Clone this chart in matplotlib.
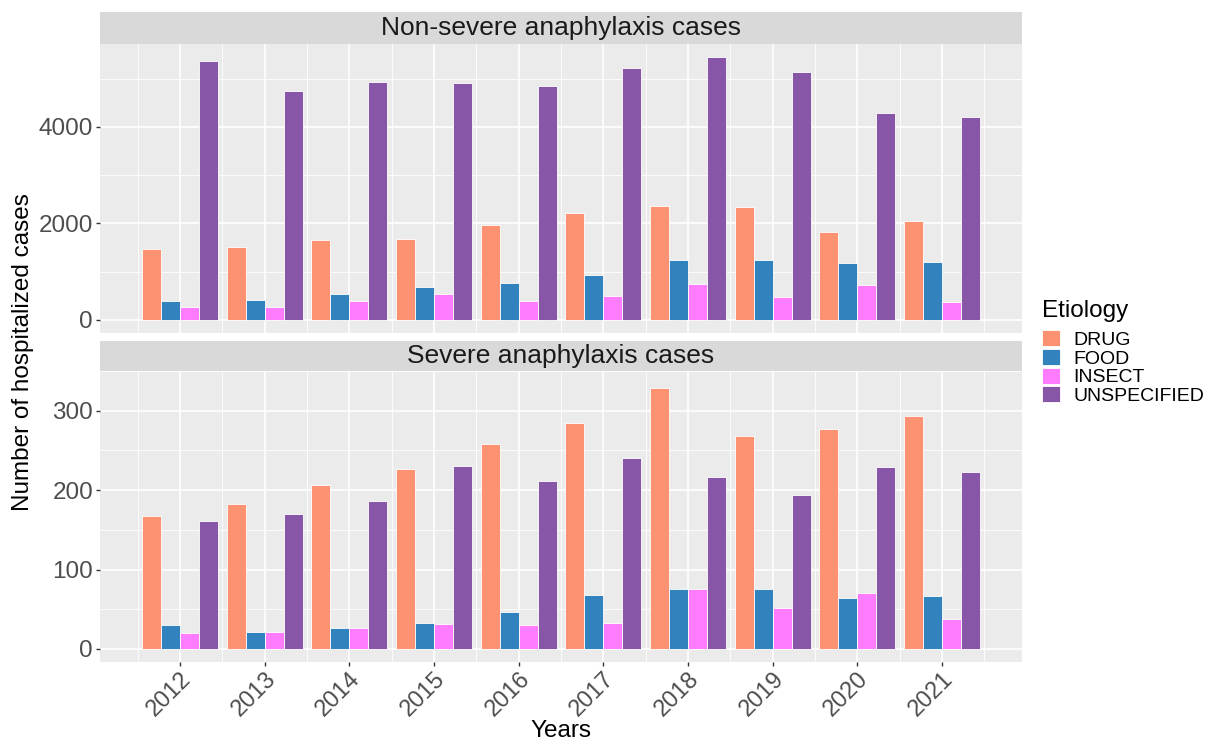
import numpy as np
import matplotlib.pyplot as plt
from matplotlib.patches import Patch

plt.rcParams['font.family'] = ['Liberation Sans', 'DejaVu Sans']

years = [2012, 2013, 2014, 2015, 2016, 2017, 2018, 2019, 2020, 2021]
etiologies = ['DRUG', 'FOOD', 'INSECT', 'UNSPECIFIED']
colors = ['#FC9272', '#3182BD', '#FF7BFF', '#8856A7']

# non-severe cases
ns_drug = [1460, 1505, 1650, 1670, 1965, 2220, 2350, 2335, 1830, 2040]
ns_food = [390, 410, 535, 680, 765, 920, 1245, 1250, 1175, 1195]
ns_insect = [265, 265, 390, 535, 395, 500, 740, 480, 720, 378]
ns_unspec = [5360, 4750, 4930, 4905, 4850, 5220, 5445, 5135, 4280, 4200]

# severe cases
s_drug = [168, 183, 207, 226, 258, 284, 328, 268, 277, 293]
s_food = [30, 22, 27, 33, 47, 68, 76, 75, 64, 67]
s_insect = [20, 22, 27, 31, 30, 33, 76, 51, 70, 38]
s_unspec = [161, 170, 186, 230, 211, 241, 217, 194, 229, 223]

panels = [
    ('Non-severe anaphylaxis cases', [ns_drug, ns_food, ns_insect, ns_unspec], [0, 2000, 4000], [1000, 3000, 5000]),
    ('Severe anaphylaxis cases', [s_drug, s_food, s_insect, s_unspec], [0, 100, 200, 300], [50, 150, 250, 350]),
]

W, H = 1208, 742
fig = plt.figure(figsize=(W / 100, H / 100), dpi=100)

# pixel boxes: (strip top, panel top, panel bottom)
boxes = [(12, 44, 333), (341, 371, 662)]
left, right = 100, 1022

x = np.arange(len(years))
dodge = 0.9
bw = dodge / len(etiologies)
span = (len(years) - 1) + dodge
xlim = (-dodge / 2 - 0.05 * span, len(years) - 1 + dodge / 2 + 0.05 * span)

axes = []
for (title, series, major, minor), (st, pt, pb) in zip(panels, boxes):
    sax = fig.add_axes([left / W, (H - pt) / H, (right - left) / W, (pt - st) / H])
    sax.set_facecolor('#D9D9D9')
    sax.set_xticks([])
    sax.set_yticks([])
    for s in sax.spines.values():
        s.set_visible(False)
    sax.text(0.5, 0.5, title, ha='center', va='center', fontsize=19, color='#1A1A1A',
             transform=sax.transAxes)

    ax = fig.add_axes([left / W, (H - pb) / H, (right - left) / W, (pb - pt) / H])
    ax.set_facecolor('#EBEBEB')
    for s in ax.spines.values():
        s.set_visible(False)
    for i, vals in enumerate(series):
        off = (i - (len(etiologies) - 1) / 2) * bw
        ax.bar(x + off, vals, width=bw, color=colors[i], edgecolor='white', linewidth=0.6, zorder=3)

    ymax = max(max(v) for v in series)
    ax.set_ylim(-0.05 * ymax, 1.05 * ymax)
    ax.set_xlim(*xlim)
    ax.set_yticks(major)
    ax.set_yticks(minor, minor=True)
    ax.set_xticks(x)
    ax.set_xticks(np.arange(-0.5, len(years)), minor=True)
    ax.grid(which='major', color='white', linewidth=1.2, zorder=0)
    ax.grid(which='minor', color='white', linewidth=0.6, zorder=0)
    ax.set_axisbelow(True)
    ax.tick_params(which='major', length=3, width=1, color='#333333', labelsize=17.5,
                   labelcolor='#4D4D4D', pad=2)
    ax.tick_params(which='minor', length=0)
    axes.append(ax)

axes[0].set_xticklabels([])
axes[0].tick_params(axis='x', length=0)
axes[1].set_xticklabels([str(y) for y in years], rotation=45, ha='right', va='top',
                        rotation_mode='anchor', fontsize=17)
axes[1].tick_params(axis='x', pad=1.5)

fig.text((left + right) / 2 / W, 1 - 737 / H, 'Years', ha='center', va='baseline', fontsize=17.5)
fig.text(23 / W, 1 - 352 / H, 'Number of hospitalized cases', ha='center', va='center',
         rotation=90, fontsize=17.5)

# legend
fig.text(1042 / W, 1 - 317 / H, 'Etiology', ha='left', va='baseline', fontsize=17.5)
handles = [Patch(facecolor=c, edgecolor='white', linewidth=0.6) for c in colors]
leg = fig.legend(handles, etiologies, loc='upper left', bbox_to_anchor=(1042 / W, 1 - 330 / H),
                 frameon=False, fontsize=14, handlelength=0.95, handleheight=0.9,
                 labelspacing=0.0, handletextpad=0.65, borderpad=0, borderaxespad=0)

fig.savefig('out.png', dpi=100)
